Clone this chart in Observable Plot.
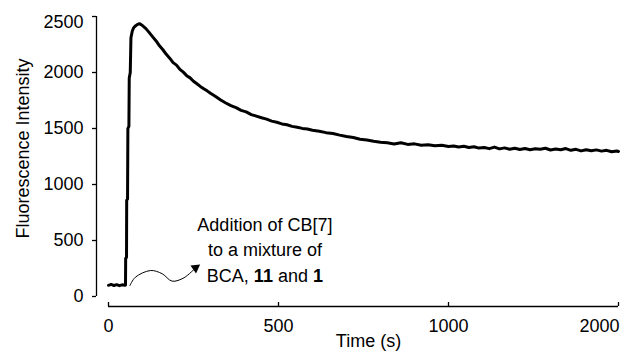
<!DOCTYPE html>
<html><head><meta charset="utf-8">
<script src="https://cdn.jsdelivr.net/npm/d3@7"></script>
<script src="https://cdn.jsdelivr.net/npm/@observablehq/plot@0.6"></script>
<style>body{margin:0;background:#fff;}</style>
</head><body><div id="chart"></div>
<script>
// Time (s) and fluorescence intensity
const time = [0, 8, 16, 24, 32, 40, 48, 50, 50.5, 53, 53.5, 56, 57, 60, 61, 64, 66, 70, 74, 80, 86, 91, 96, 100,
  110, 120, 130, 140, 150, 160, 170, 180, 190, 200, 210, 220, 230, 240, 250, 260, 270, 280, 290, 300,
  315, 330, 345, 360, 375, 390, 405, 420, 435, 450, 465, 480, 495, 510, 525, 540, 555, 570, 585, 600,
  620, 640, 660, 680, 700, 720, 740, 760, 780, 800, 820, 840, 860, 880, 900, 920, 940, 960, 980, 1000,
  1030, 1060, 1090, 1120, 1150, 1180, 1210, 1240, 1270, 1300, 1330, 1360, 1390, 1420, 1450, 1480, 1510,
  1540, 1570, 1600, 1630, 1660, 1690, 1720, 1750, 1780, 1810, 1840, 1870, 1900, 1930, 1960, 1990, 2000];
const intensity = [100, 108, 98, 106, 97, 104, 100, 102, 340, 350, 860, 870, 1500, 1520, 1950, 2000, 2310, 2370, 2400, 2418, 2430, 2436, 2428, 2418,
  2392, 2356, 2318, 2282, 2238, 2203, 2162, 2128, 2088, 2066, 2028, 2003, 1972, 1952, 1922, 1900, 1876, 1856, 1836, 1814,
  1786, 1754, 1728, 1704, 1686, 1662, 1648, 1624, 1610, 1596, 1584, 1566, 1556, 1541, 1533, 1519, 1511, 1501, 1496, 1484,
  1476, 1463, 1456, 1441, 1429, 1419, 1404, 1397, 1386, 1377, 1372, 1362, 1372, 1358, 1363, 1350, 1355, 1346, 1351, 1340,
  1344, 1335, 1341, 1330, 1337, 1325, 1331, 1320, 1334, 1318, 1327, 1315, 1324, 1312, 1321, 1310, 1319,
  1314, 1324, 1308, 1317, 1310, 1321, 1305, 1314, 1300, 1311, 1302, 1309, 1298, 1305, 1292, 1299, 1295];

const xTicks = [0, 500, 1000, 2000];
const yTicks = [0, 500, 1000, 1500, 2000, 2500];

// wavy annotation arrow (time, intensity)
const arrowTime = [63, 79, 124, 158, 187, 222, 256];
const arrowValue = [98, 172, 232, 203, 137, 167, 256];

const noteLines = ["Addition of CB[7]", "to a mixture of", "BCA, 11 and 1"];
const noteTime = [460];
const noteValue = [430];

const trace = time.map((t, i) => ({t, v: intensity[i]}));
const arrow = arrowTime.map((t, i) => ({t, v: arrowValue[i]}));
const lastX = xTicks[xTicks.length - 1];
const lastY = yTicks[yTicks.length - 1];

const font = "'Liberation Sans', Arial, Helvetica, sans-serif";

const chart = Plot.plot({
  width: 624,
  height: 352,
  marginLeft: 96,
  marginRight: 6,
  marginTop: 16,
  marginBottom: 56,
  style: {fontFamily: font, fontSize: "18px", background: "#fff", color: "#000"},
  x: {type: "linear", domain: [0, 1000, 2000], range: [108, 448, 618], axis: null},
  y: {domain: [0, 2500], axis: null},
  marks: [
    // y axis line
    Plot.ruleX([0], {dx: -12, y1: 0, y2: lastY, stroke: "#000", strokeWidth: 1.3}),
    Plot.axisY(yTicks, {anchor: "left", tickSize: 4, tickPadding: 9, strokeWidth: 1.3,
      tickFormat: d => d === lastY ? "" : String(d), fontSize: 18, label: null}),
    Plot.text([lastY], {y: d => d, frameAnchor: "left", dx: -13, dy: 6, textAnchor: "end", text: d => String(d), fontSize: 18}),
    // x axis line (offset below)
    Plot.ruleY([0], {x1: 0, x2: lastX, dy: 10, stroke: "#000", strokeWidth: 1.3}),
    Plot.axisX(xTicks, {anchor: "bottom", tickSize: -4, dy: 10, tickPadding: 17, strokeWidth: 1.3,
      tickFormat: d => d === lastX ? "" : String(d), fontSize: 18, label: null}),
    Plot.text([lastX], {x: d => d, frameAnchor: "bottom", dy: 23, dx: 1, lineAnchor: "top", textAnchor: "end", text: d => String(d), fontSize: 18}),
    // axis titles
    Plot.text(["Fluorescence Intensity"], {frameAnchor: "left", rotate: -90, dx: -73, dy: -8, textAnchor: "middle", lineAnchor: "middle", fontSize: 18}),
    Plot.text(["Time (s)"], {frameAnchor: "bottom", dx: 11, dy: 45, textAnchor: "middle", lineAnchor: "middle", fontSize: 18}),
    // data trace
    Plot.line(trace, {x: "t", y: "v", stroke: "#000", strokeWidth: 3, strokeLinejoin: "round"}),
    // annotation
    Plot.line(arrow, {x: "t", y: "v", curve: "catmull-rom", stroke: "#000", strokeWidth: 1}),
    Plot.dot([arrow[arrow.length - 1]], {x: "t", y: "v", symbol: "triangle", r: 3.6, fill: "#000", stroke: null, rotate: 55}),
    Plot.text([noteLines.join("\n")], {x: () => noteTime[0], y: () => noteValue[0], text: d => d,
      lineHeight: 1.4, fontSize: 18, textAnchor: "middle", lineAnchor: "middle"})
  ]
});

// bold compound numbers in the third annotation line
chart.querySelectorAll("tspan, text").forEach(el => {
  if (el.textContent === "BCA, 11 and 1" && el.children.length === 0) {
    const ns = "http://www.w3.org/2000/svg";
    el.textContent = "";
    const parts = [["BCA, ", false], ["11", true], [" and ", false], ["1", true]];
    for (const [s, b] of parts) {
      const ts = document.createElementNS(ns, "tspan");
      ts.textContent = s;
      if (b) ts.setAttribute("font-weight", "bold");
      el.appendChild(ts);
    }
  }
});

document.getElementById("chart").appendChild(chart);
</script>
</body></html>
